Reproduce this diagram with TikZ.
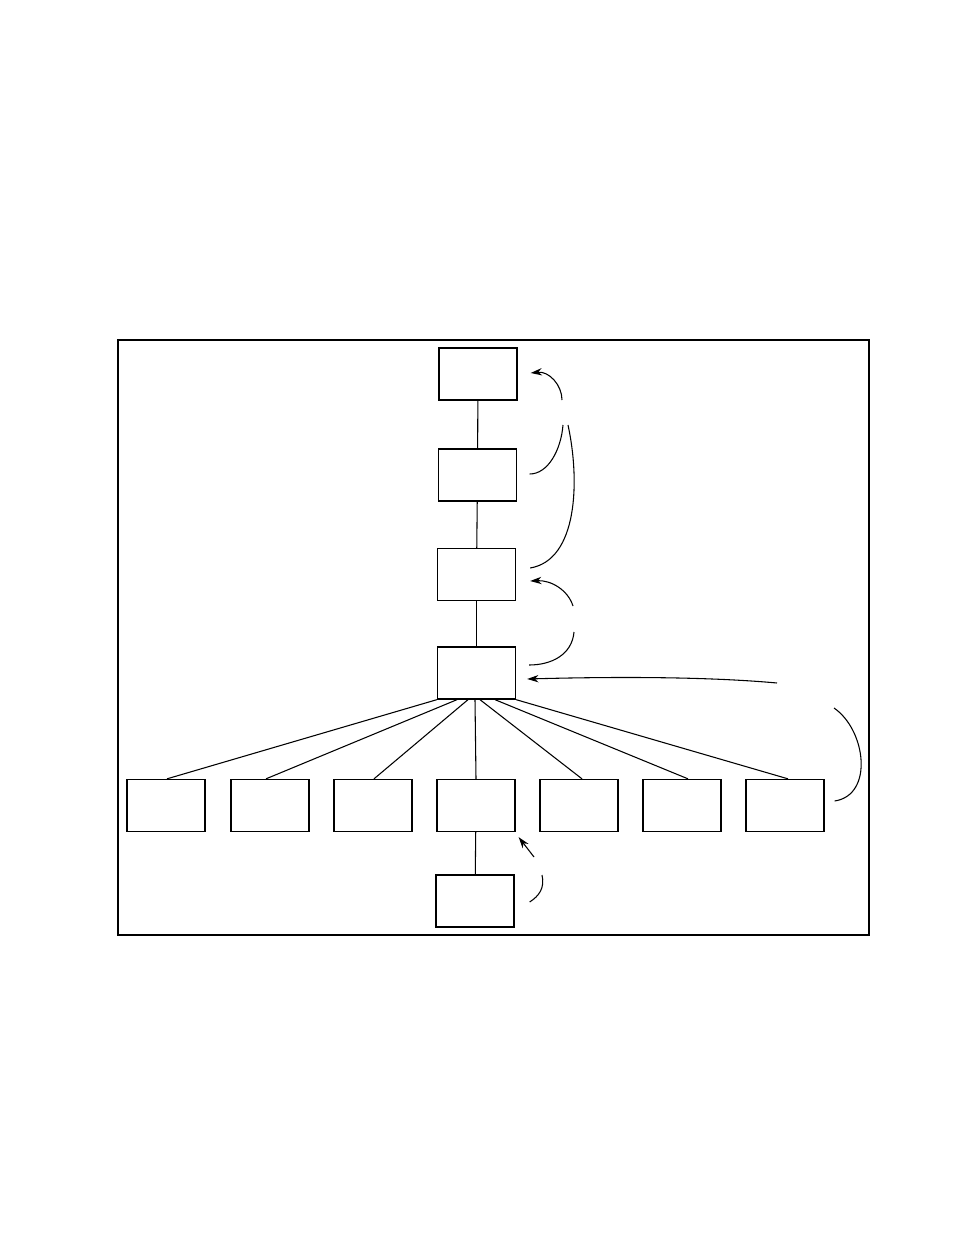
\documentclass[tikz,border=0pt]{standalone}
\usetikzlibrary{arrows.meta,calc}
\begin{document}
\begin{tikzpicture}[x=0.75pt,y=-0.75pt,
  box/.style={draw,line width=1pt,minimum width=58.5pt,minimum height=39pt,inner sep=0pt},
  link/.style={line width=0.8pt},
  note/.style={line width=0.8pt},
  notearrow/.style={line width=0.8pt,-{Stealth[length=8.5pt,width=5.5pt]}}]
\useasboundingbox (0,0) rectangle (954,1235);
\node[draw,line width=0.8pt,minimum width=563.25pt,minimum height=446.25pt,inner sep=0pt] (frame) at (493.5,637.5) {};
% spine
\node[box] (b1) at (478,374) {};
\node[box] (b2) at (477.5,475) {};
\node[box] (b3) at (476.5,574.5) {};
\node[box] (b4) at (476.5,673) {};
% children
\node[box] (c1) at (166,805.5) {};
\node[box] (c2) at (270,805.5) {};
\node[box] (c3) at (373,805.5) {};
\node[box] (c4) at (476,805.5) {};
\node[box] (c5) at (579,805.5) {};
\node[box] (c6) at (682,805.5) {};
\node[box] (c7) at (785,805.5) {};
\node[box] (d1) at (475,901) {};
% spine links
\draw[link] (b1) -- (b2);
\draw[link] (b2) -- (b3);
\draw[link] (b3) -- (b4);
\draw[link] (c4) -- (d1);
% fan
\draw[link] (b4.south west) -- ($(c1.north)+(1,0)$);
\draw[link] ($(b4.south)+(-19.5,0)$) -- ($(c2.north)+(-4,0)$);
\draw[link] ($(b4.south)+(-8.5,0)$) -- ($(c3.north)+(1,0)$);
\draw[link] ($(b4.south)+(-1.5,0)$) -- (c4.north);
\draw[link] ($(b4.south)+(3.5,0)$) -- ($(c5.north)+(3,0)$);
\draw[link] ($(b4.south)+(18.5,0)$) -- ($(c6.north)+(6,0)$);
\draw[link] (b4.south east) -- ($(c7.north)+(3,0)$);
% free ends of the annotation curves
\coordinate (p1) at (562,400);
\coordinate (p2) at (563,425);
\coordinate (p3) at (568,425);
\coordinate (p4) at (573,606);
\coordinate (p5) at (574,632);
\coordinate (p6) at (777,683);
\coordinate (p7) at (834,708);
\coordinate (p8) at (534,857);
\coordinate (p9) at (542,875);
% annotation curves
\draw[notearrow] (p1) .. controls (562,385) and (549,371) .. ($(b1.east)+(13,-1)$);
\draw[note] (p2) .. controls (561,450) and (548,474) .. ($(b2.east)+(12.5,-1)$);
\draw[note] (p3) .. controls (580,480) and (578,560) .. ($(b3.east)+(14,-6.5)$);
\draw[notearrow] (p4) .. controls (568,590) and (551,580) .. ($(b3.east)+(14,6.5)$);
\draw[note] (p5) .. controls (572,655) and (551,665) .. ($(b4.east)+(13,-8)$);
\draw[notearrow] (p6) .. controls (700,676) and (600,677) .. ($(b4.east)+(11,6)$);
\draw[note] (p7) .. controls (866,730) and (874,795) .. ($(c7.east)+(10,-4.5)$);
\draw[notearrow] (p8) -- ($(c4.south east)+(3,5)$);
\draw[note] (p9) .. controls (545,888) and (539,896) .. ($(d1.east)+(15,1)$);
\end{tikzpicture}
\end{document}
